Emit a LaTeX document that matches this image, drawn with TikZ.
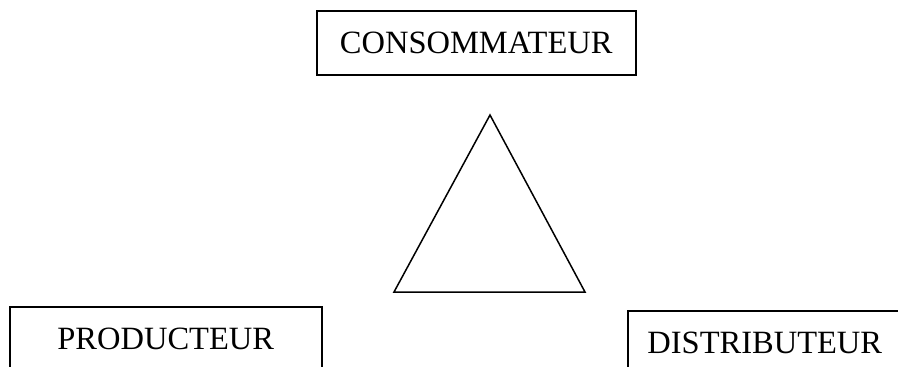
\documentclass[tikz,border=0pt]{standalone}
\usepackage{fontspec}
\setmainfont{Liberation Serif}
\usetikzlibrary{positioning}

\begin{document}
\begin{tikzpicture}[
  x=1pt, y=-1pt,
  font=\fontsize{32.5}{38}\selectfont,
  actor/.style={draw=black, line width=1.5pt, inner sep=0pt, minimum height=64pt, anchor=north west, align=center},
  tri/.style={draw=black, line width=1.5pt, line join=miter}
]
  \useasboundingbox (0,0) rectangle (898,367);
  \clip (0,0) rectangle (898,367);

  \node[actor, minimum width=319pt] (conso) at (316,10) {CONSOMMATEUR};
  \node[actor, minimum width=312pt] (prod) at (9,306) {PRODUCTEUR};
  \node[actor, minimum width=274pt] (distri) at (627,310) {DISTRIBUTEUR};

  % triangle au centre
  \coordinate (top) at (490,115);
  \coordinate (bl) at (394,292);
  \coordinate (br) at (585,292);
  \draw[tri] (top) -- (bl) -- (br) -- cycle;
\end{tikzpicture}
\end{document}
